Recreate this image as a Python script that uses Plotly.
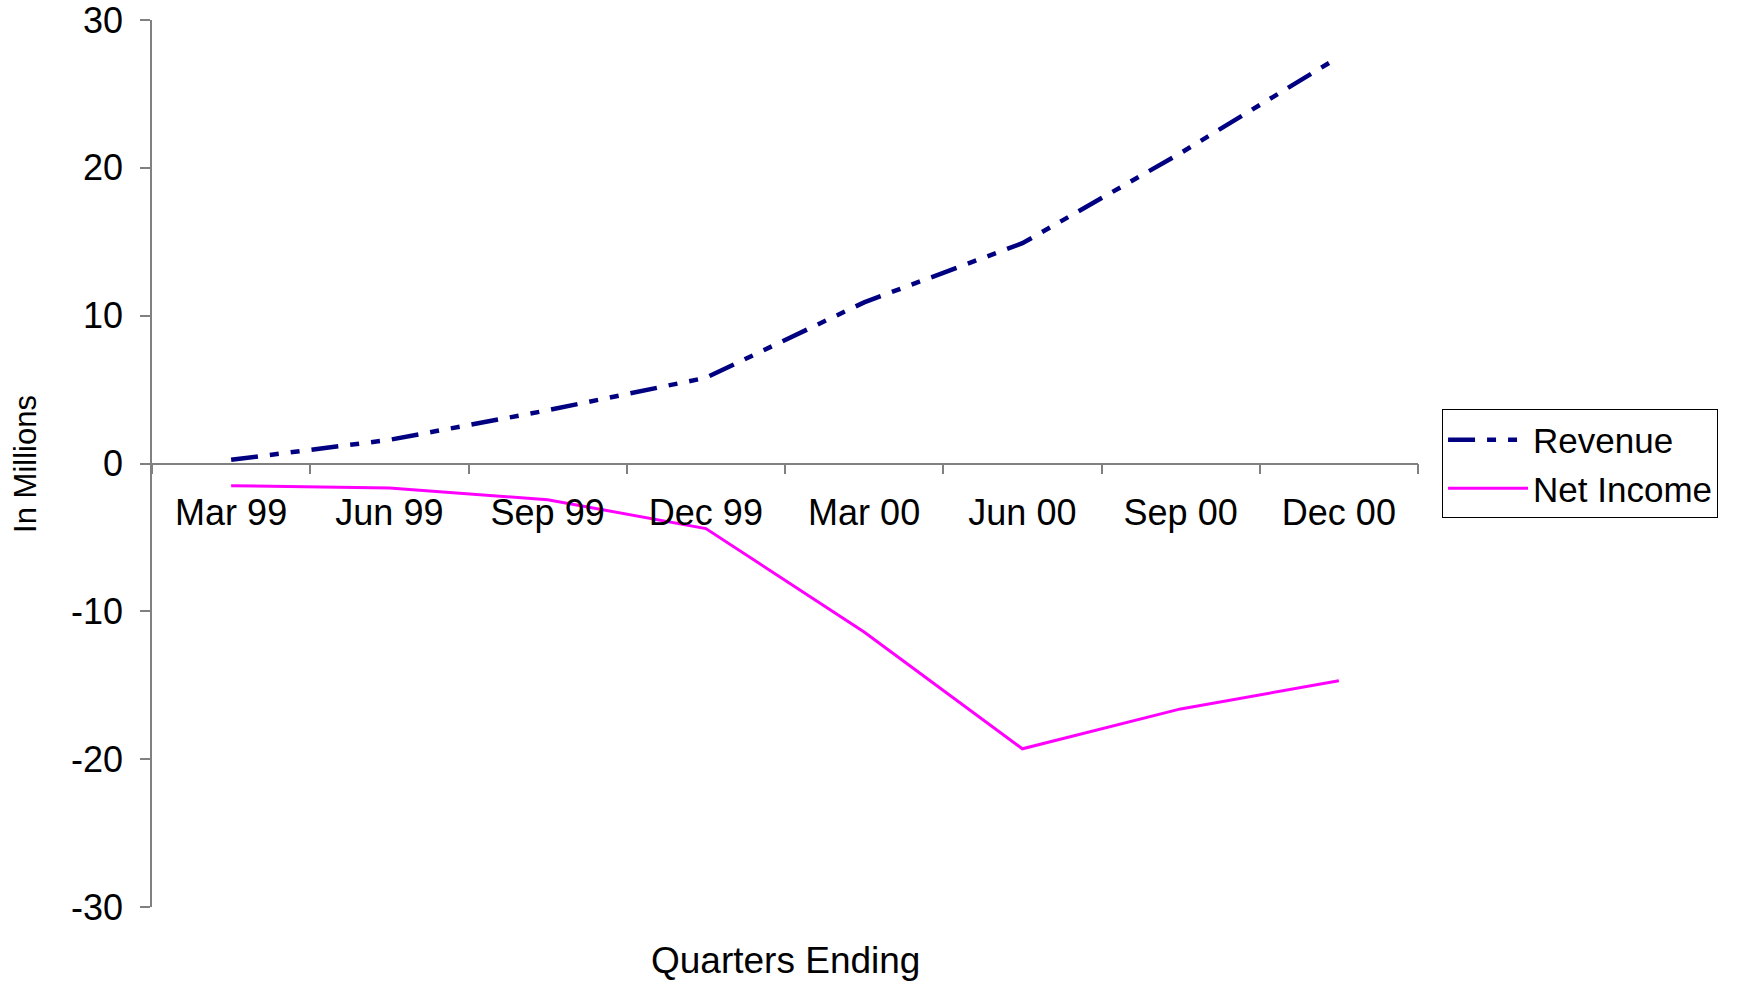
import plotly.graph_objects as go

# Quarterly figures, in millions
quarters = ["Mar 99", "Jun 99", "Sep 99", "Dec 99", "Mar 00", "Jun 00", "Sep 00", "Dec 00"]
revenue = [0.25, 1.6, 3.6, 5.8, 10.9, 14.9, 21.0, 27.5]
net_income = [-1.5, -1.65, -2.45, -4.4, -11.4, -19.3, -16.6, -14.7]

# Value-axis ticks (plain hyphen for negatives)
y_ticks = [-30, -20, -10, 0, 10, 20, 30]
y_tick_text = [str(v) for v in y_ticks]

FONT = "Liberation Sans, Arial, sans-serif"
AXIS_GRAY = "#808080"

fig = go.Figure()
fig.add_trace(go.Scatter(
    x=quarters, y=revenue, name="Revenue", mode="lines",
    line=dict(color="#000080", width=4.5, dash="27px,12px,9px,12px,9px,12px"),
))
fig.add_trace(go.Scatter(
    x=quarters, y=net_income, name="Net Income", mode="lines",
    line=dict(color="#FF00FF", width=3),
))

fig.update_layout(
    width=1748, height=981,
    margin=dict(l=152, r=330, t=20, b=73.5),
    paper_bgcolor="white", plot_bgcolor="white",
    font=dict(family=FONT, size=36, color="black"),
    showlegend=True,
    legend=dict(
        x=1.019, y=0.561, xanchor="left", yanchor="top",
        bordercolor="black", borderwidth=1, bgcolor="white",
        font=dict(size=35), itemwidth=80, tracegroupgap=0,
    ),
    xaxis=dict(
        type="category", range=[-0.5, 7.5],
        anchor="free", position=0.5, automargin=False,
        showline=True, linecolor=AXIS_GRAY, linewidth=1.5,
        ticks="outside", tickson="boundaries", ticklen=10,
        tickcolor=AXIS_GRAY, tickwidth=1.5,
        showgrid=False, zeroline=False,
        tickfont=dict(size=36), ticklabelstandoff=18,
    ),
    yaxis=dict(
        range=[-30, 30], automargin=False,
        tickmode="array", tickvals=y_ticks, ticktext=y_tick_text,
        showline=True, linecolor=AXIS_GRAY, linewidth=1.5,
        ticks="outside", ticklen=10, tickcolor=AXIS_GRAY, tickwidth=1.5,
        showgrid=False, zeroline=False,
        tickfont=dict(size=36), ticklabelstandoff=10,
        ticklabeloverflow="allow",
    ),
    annotations=[
        dict(text="Quarters Ending", xref="paper", yref="paper",
             x=0.5, y=-0.06, xanchor="center", yanchor="middle",
             showarrow=False, font=dict(size=37)),
        dict(text="In Millions", xref="paper", yref="paper",
             x=-0.1, y=0.5, xanchor="center", yanchor="middle",
             textangle=-90, showarrow=False, font=dict(size=31)),
    ],
)

fig.write_html("out.html")
